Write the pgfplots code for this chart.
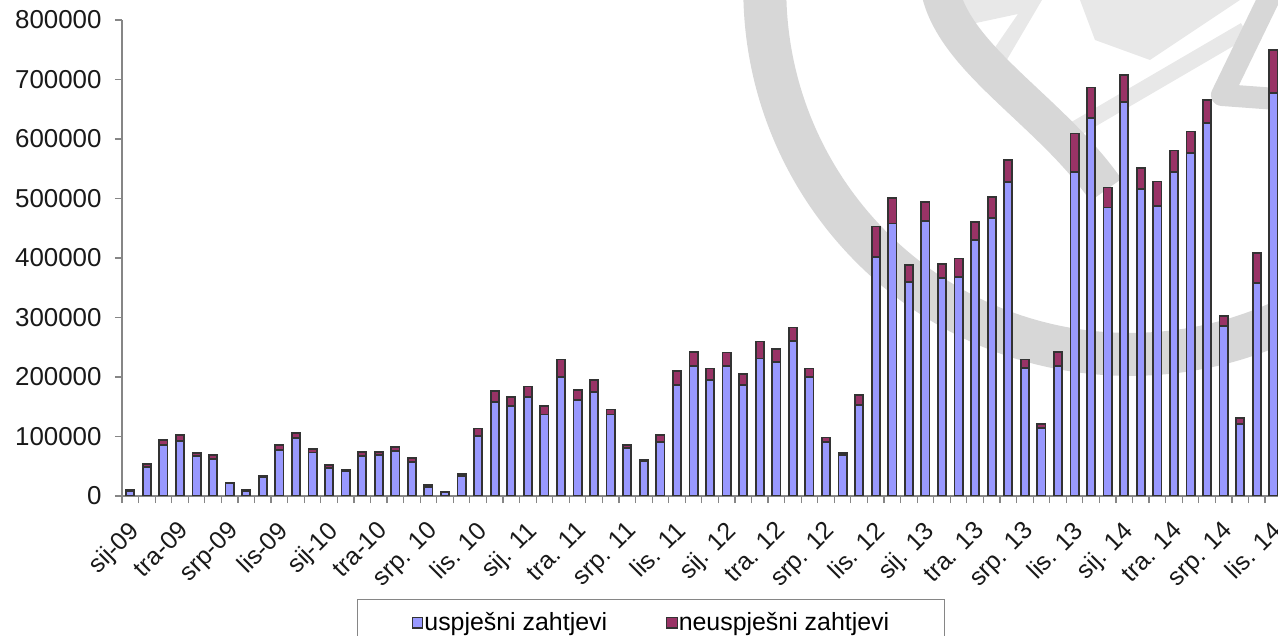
\documentclass[border=0pt]{standalone}
\usepackage{pgfplots}
\usepackage{pgfplotstable}
\pgfplotsset{compat=1.18}
\usepackage{fontspec}
\setmainfont{Liberation Sans}
\definecolor{barblue}{HTML}{9999FF}
\definecolor{barred}{HTML}{993366}
\definecolor{wmdark}{HTML}{D7D7D7}
\definecolor{wmlight}{HTML}{E8E8E8}
\definecolor{axgray}{HTML}{868686}

\pgfplotstableread{
x blue red
0 8000 2000
1 49000 4500
2 85700 8100
3 93000 9700
4 67800 4100
5 61600 6900
6 21000 1500
7 8000 1500
8 32000 1500
9 77000 9000
10 98000 8000
11 73000 5500
12 47600 4100
13 42000 2000
14 67000 7000
15 69000 5000
16 76000 7000
17 56600 6900
18 15700 2800
19 6500 1000
20 33600 3900
21 100800 12500
22 158500 18000
23 151000 15500
24 167000 17000
25 137000 14500
26 200500 28800
27 161000 16500
28 175000 19500
29 137000 8500
30 80000 5500
31 59000 1500
32 91000 11500
33 186600 23900
34 218500 23700
35 195000 19200
36 218500 22600
37 186600 18900
38 231000 28500
39 225700 20800
40 261000 22100
41 200500 13700
42 91000 7200
43 69000 2900
44 153000 16500
45 402000 50800
46 458000 42500
47 360000 27900
48 462700 31800
49 367000 23500
50 368600 30400
51 430000 30500
52 466700 35800
53 528000 36500
54 214600 14900
55 113700 7800
56 218500 24000
57 545000 64100
58 634800 51700
59 485000 33500
60 662700 44800
61 515500 35400
62 488000 40500
63 545000 35500
64 576000 36500
65 627400 37800
66 285700 16800
67 121000 10500
68 358500 49600
69 676800 72700
}\datatable

\begin{document}
\begin{tikzpicture}
\useasboundingbox (0,0) rectangle (639bp,318bp);
% watermark (background decoration)
\begin{scope}[yshift=318bp, x=0.5bp, y=-0.5bp]
  \fill[wmlight] (962,0) -- (1042,0) -- (995,80) -- (985,62) -- (1018,14) -- (962,26) -- cycle;
  \fill[wmlight] (1080,0) -- (1240,0) -- (1150,60) -- (1095,40) -- cycle;
  \draw[wmlight, line width=8bp] (1245,30) -- (1065,135);
  \draw[wmdark, line width=21.5bp] (1130,-10.8) circle[radius=182.6bp];
  \draw[wmdark, line width=19bp] (940,-10) .. controls (955,60) and (1050,110) .. (1106,190);
  \draw[wmdark, line width=11bp, line join=round] (1272,-8) -- (1222,95) -- (1290,100);
\end{scope}
\begin{axis}[
  at={(61bp,70bp)}, anchor=south west,
  scale only axis, width=579.8bp, height=238bp,
  xmin=-0.5, xmax=69.5, ymin=0, ymax=800000,
  ybar stacked, bar width=4.1bp,
  axis lines*=left,
  axis line style={axgray, line width=0.7bp},
  /pgf/number format/assume math mode=true,
  ytick={0,100000,...,800000},
  scaled y ticks=false,
  yticklabel style={/pgf/number format/fixed, /pgf/number format/1000 sep={}, font=\fontsize{13}{15}\selectfont, text=black!90, xshift=-3.2bp},
  tick align=outside, major tick length=3.5bp,
  tick style={axgray, line width=0.6bp},
  xtick={-0.5,0.5,...,69.5}, xticklabels={},
  extra x ticks={0,3,...,69},
  extra x tick labels={sij-09,tra-09,srp-09,lis-09,sij-10,tra-10,srp. 10,lis. 10,sij. 11,tra. 11,srp. 11,lis. 11,sij. 12,tra. 12,srp. 12,lis. 12,sij. 13,tra. 13,srp. 13,lis. 13,sij. 14,tra. 14,srp. 14,lis. 14},
  extra x tick style={major tick length=0pt, xticklabel style={rotate=45, anchor=north east, font=\fontsize{12.5}{14}\selectfont, text=black!90, xshift=-5.8bp, yshift=-4.0bp}},
  legend columns=2,
  legend style={at={(0.4562,-0.2164)}, anchor=north, draw=axgray, line width=0.6bp,
    font=\fontsize{12.5}{14}\selectfont, inner xsep=27bp, inner ysep=5.8bp,
    nodes={inner xsep=0.5bp, inner ysep=0.5bp},
    /tikz/every even column/.append style={column sep=29bp}},
  legend image code/.code={\draw[#1, line width=0.6bp] (0bp,-2.6bp) rectangle (5.2bp,2.6bp);},
]
\addplot[fill=barblue, draw=black!80, line width=0.9bp] table[x=x, y=blue] {\datatable};
\addplot[fill=barred, draw=black!80, line width=0.9bp] table[x=x, y=red] {\datatable};
\legend{uspješni zahtjevi, neuspješni zahtjevi}
\end{axis}
\end{tikzpicture}
\end{document}
